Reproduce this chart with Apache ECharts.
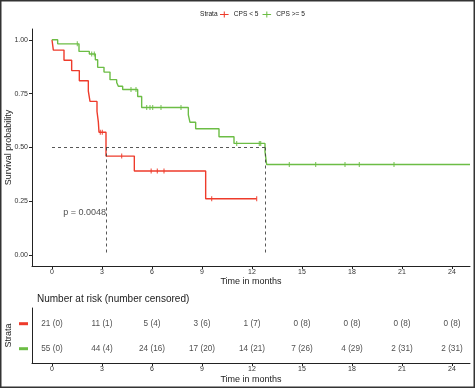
<!DOCTYPE html>
<html><head><meta charset="utf-8">
<script src="https://cdn.jsdelivr.net/npm/echarts@6/dist/echarts.min.js"></script>
<style>html,body{margin:0;padding:0;background:#fff}#c{width:475px;height:388px}</style>
</head><body><div id="c"></div>
<script>
// ---- data ----
const strata = ['CPS < 5', 'CPS >= 5'];
const timeTicks = [0, 3, 6, 9, 12, 15, 18, 21, 24];
const survTicks = [0, 0.25, 0.5, 0.75, 1];

const redTime = [0, 0.08, 0.72, 1.18, 1.64, 2.18, 2.28, 2.70, 2.78, 2.82, 3.24, 4.94, 9.22, 12.28];
const redSurv = [1, 0.952, 0.905, 0.857, 0.810, 0.762, 0.714, 0.667, 0.619, 0.571, 0.460, 0.391, 0.262, 0.262];
const redCensorTime = [2.90, 3.02, 4.18, 5.95, 6.32, 6.72, 9.58, 12.28];
const redCensorSurv = [0.571, 0.571, 0.460, 0.391, 0.391, 0.391, 0.262, 0.262];

const greenTime = [0, 0.34, 1.62, 2.24, 2.60, 2.74, 3.12, 3.48, 3.88, 3.98, 4.24, 5.14, 5.38, 8.18, 8.28, 8.62, 10.02, 10.92, 12.78, 12.88, 25.08];
const greenSurv = [1, 0.981, 0.946, 0.934, 0.907, 0.872, 0.850, 0.815, 0.802, 0.784, 0.769, 0.737, 0.686, 0.651, 0.617, 0.587, 0.550, 0.519, 0.481, 0.421, 0.421];
const greenCensorTime = [1.52, 2.38, 2.54, 4.74, 5.04, 5.68, 5.88, 6.04, 6.54, 7.74, 11.08, 12.44, 12.52, 14.24, 15.82, 17.58, 18.44, 20.52];
const greenCensorSurv = [0.981, 0.934, 0.934, 0.769, 0.769, 0.686, 0.686, 0.686, 0.686, 0.686, 0.519, 0.519, 0.519, 0.421, 0.421, 0.421, 0.421, 0.421];

const medianTimes = [3.24, 12.82];
const medianLevel = 0.5;
const pValueText = 'p = 0.0048';
const pValuePos = [0.64, 0.2];

const redAtRisk = [21, 11, 5, 3, 1, 0, 0, 0, 0];
const redCensored = [0, 1, 4, 6, 7, 8, 8, 8, 8];
const greenAtRisk = [55, 44, 24, 17, 14, 7, 4, 2, 2];
const greenCensored = [0, 4, 16, 20, 21, 26, 29, 31, 31];

// ---- chart ----
const RED = '#ee3b2b', GREEN = '#6cbd45', TXT = '#222', AX = '#222';
const font = 'Liberation Sans, Arial, Helvetica, sans-serif';
const zip = (a, b) => a.map((v, i) => [v, b[i]]);

const chart = echarts.init(document.getElementById('c'), null, {renderer: 'canvas'});

const xBase = (gi, name, gap) => ({
  type: 'value', gridIndex: gi, min: -1.2, max: 25.08,
  name: name, nameLocation: 'middle', nameGap: gap, nameMoveOverlap: false,
  nameTextStyle: {fontSize: 9, color: TXT},
  splitLine: {show: false},
  axisLine: {show: true, onZero: false, lineStyle: {color: AX, width: 1}},
  axisTick: {show: true, length: 3, customValues: timeTicks, lineStyle: {color: AX}},
  axisLabel: {customValues: timeTicks, fontSize: 7, color: '#333', margin: 3}
});

const censorSeries = (name, t, s, color) => ({
  name: name, type: 'scatter', xAxisIndex: 0, yAxisIndex: 0,
  data: zip(t, s), symbol: 'rect', symbolSize: [1.2, 5],
  itemStyle: {color: color}, z: 4, silent: true
});

const riskSeries = (yv, atRisk, cens) => ({
  name: 'risk' + yv, type: 'scatter', xAxisIndex: 1, yAxisIndex: 1,
  data: timeTicks.map((t, i) => [t, yv]), symbolSize: 1,
  itemStyle: {color: 'rgba(0,0,0,0)'},
  label: {show: true, position: 'inside', fontSize: 8.2, color: TXT,
    formatter: p => atRisk[p.dataIndex] + ' (' + cens[p.dataIndex] + ')'},
  silent: true
});

const medianLines = [
  [{coord: [0, medianLevel]}, {coord: [medianTimes[1], medianLevel]}],
  ...medianTimes.map(m => [{coord: [m, medianLevel]}, {coord: [m, 0]}])
];

chart.setOption({
  animation: false,
  textStyle: {fontFamily: font},
  title: {text: 'Number at risk (number censored)', left: 32, top: 289,
    textStyle: {fontSize: 10, fontWeight: 'normal', color: TXT}},
  legend: {
    data: strata, left: 215, top: 6, itemWidth: 9, itemHeight: 6, itemGap: 4,
    icon: 'path://M0,4.4H10V5.6H0Z M4.4,1.5H5.6V8.5H4.4Z',
    textStyle: {fontSize: 6.6, color: TXT}
  },
  graphic: [
    {type: 'text', left: 200, top: 10.5, style: {text: 'Strata', fontSize: 6.6, fill: TXT, fontFamily: font}},
    {type: 'rect', shape: {x: 0.75, y: 0.75, width: 473.5, height: 386.5},
      style: {fill: 'none', stroke: '#333', lineWidth: 1.5}, silent: true}
  ],
  grid: [
    {left: 32, top: 29, width: 438, height: 237, containLabel: false, outerBoundsMode: 'none'},
    {left: 32, top: 308, width: 438, height: 55, containLabel: false, outerBoundsMode: 'none'}
  ],
  xAxis: [xBase(0, 'Time in months', 11), xBase(1, 'Time in months', 12.5)],
  yAxis: [
    {type: 'value', gridIndex: 0, min: -0.05, max: 1.05,
      name: 'Survival probability', nameLocation: 'middle', nameGap: 19, nameMoveOverlap: false,
      nameTextStyle: {fontSize: 9, color: TXT},
      splitLine: {show: false},
      axisLine: {show: true, onZero: false, lineStyle: {color: AX, width: 1}},
      axisTick: {show: true, length: 3, customValues: survTicks, lineStyle: {color: AX}},
      axisLabel: {customValues: survTicks, fontSize: 7, color: '#333', margin: 4,
        formatter: v => v.toFixed(2)}},
    {type: 'value', gridIndex: 1, min: 0.428, max: 2.628,
      name: 'Strata', nameLocation: 'middle', nameGap: 19, nameMoveOverlap: false,
      nameTextStyle: {fontSize: 9, color: TXT},
      splitLine: {show: false},
      axisLine: {show: true, onZero: false, lineStyle: {color: AX, width: 1}},
      axisTick: {show: false},
      axisLabel: {customValues: [1, 2], margin: 4,
        formatter: v => v === 2 ? '{r|}' : '{g|}',
        rich: {r: {width: 9, height: 3, backgroundColor: RED},
               g: {width: 9, height: 3, backgroundColor: GREEN}}}}
  ],
  series: [
    {name: strata[0], type: 'line', step: 'end', xAxisIndex: 0, yAxisIndex: 0,
      data: zip(redTime, redSurv), showSymbol: false, color: RED,
      lineStyle: {width: 1.4, color: RED}, z: 3,
      markLine: {silent: true, symbol: 'none', label: {show: false},
        lineStyle: {type: [3, 3], color: '#444', width: 0.9}, data: medianLines}},
    {name: strata[1], type: 'line', step: 'end', xAxisIndex: 0, yAxisIndex: 0,
      data: zip(greenTime, greenSurv), showSymbol: false, color: GREEN,
      lineStyle: {width: 1.4, color: GREEN}, z: 3},
    censorSeries(strata[0], redCensorTime, redCensorSurv, RED),
    censorSeries(strata[1], greenCensorTime, greenCensorSurv, GREEN),
    {name: 'pval', type: 'scatter', xAxisIndex: 0, yAxisIndex: 0,
      data: [pValuePos], symbolSize: 1, itemStyle: {color: 'rgba(0,0,0,0)'},
      label: {show: true, position: 'right', distance: 0, formatter: pValueText,
        fontSize: 9, color: TXT}, silent: true},
    riskSeries(2, redAtRisk, redCensored),
    riskSeries(1, greenAtRisk, greenCensored)
  ]
});
</script>
</body></html>
